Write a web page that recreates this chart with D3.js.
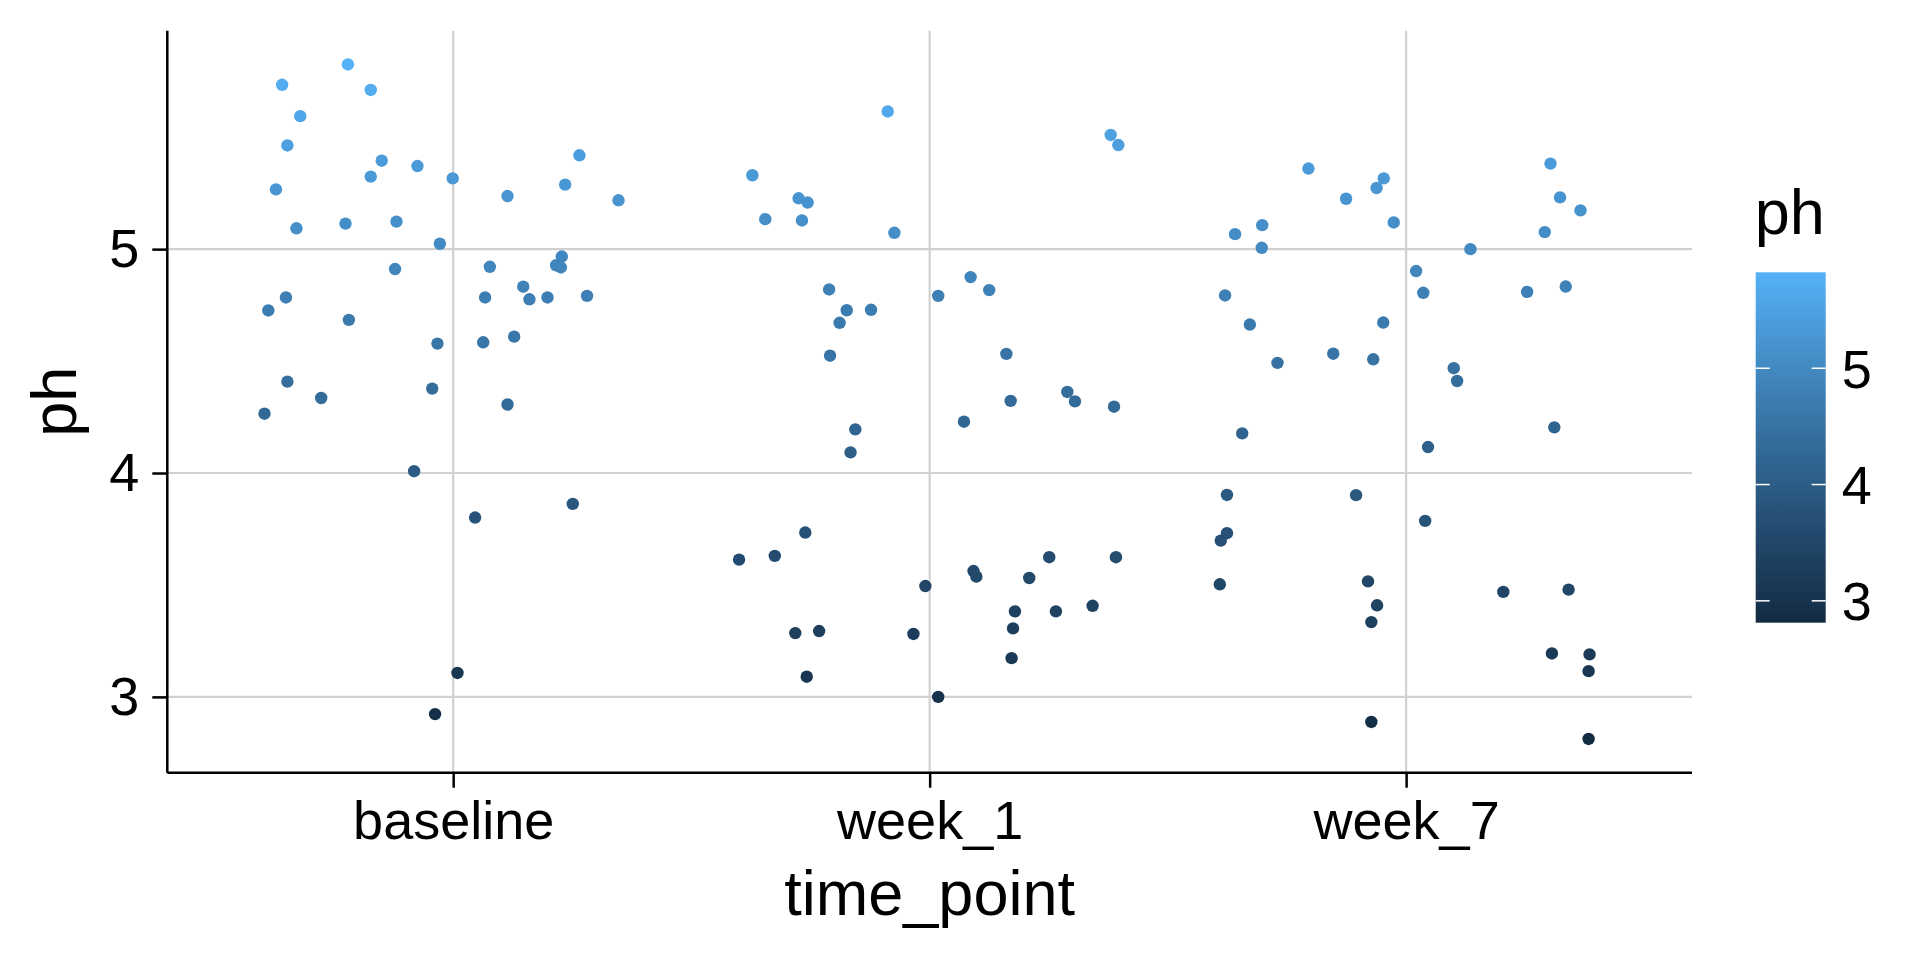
<!DOCTYPE html>
<html>
<head>
<meta charset="utf-8">
<script src="https://cdn.jsdelivr.net/npm/d3@7"></script>
<style>
  html, body { margin: 0; padding: 0; background: #ffffff; }
  svg { display: block; font-family: "Liberation Sans", Arial, Helvetica, sans-serif; }
</style>
</head>
<body>
<svg id="chart" width="1920" height="960"></svg>
<script>
// ---- data ----
const categories = ["baseline", "week_1", "week_7"];

const baselinePh = [5.825, 5.734, 5.711, 5.594, 5.463, 5.419, 5.395, 5.371, 5.316, 5.324,
  5.267, 5.288, 5.237, 5.218, 5.093, 5.114, 5.123, 5.024, 4.967, 4.928,
  4.918, 4.921, 4.911, 4.832, 4.784, 4.776, 4.784, 4.791, 4.784, 4.726,
  4.684, 4.578, 4.584, 4.609, 4.408, 4.335, 4.265, 4.377, 4.306, 4.008,
  3.801, 3.862, 3.107, 2.923];
const baselineJitter = [-0.221, -0.359, -0.173, -0.321, -0.348, 0.265, -0.150, -0.075, -0.001, -0.173,
  -0.372, 0.235, 0.114, 0.347, -0.329, -0.226, -0.119, -0.028, 0.228, 0.216,
  0.226, 0.077, -0.122, 0.147, 0.067, 0.160, 0.198, 0.281, -0.351, -0.388,
  -0.219, -0.033, 0.063, 0.128, -0.348, -0.277, -0.396, -0.044, 0.114, -0.082,
  0.046, 0.251, 0.009, -0.038];

const week1Ph = [5.615, 5.510, 5.465, 5.330, 5.227, 5.208, 5.134, 5.128, 5.073, 4.820,
  4.875, 4.817, 4.791, 4.727, 4.729, 4.671, 4.524, 4.532, 4.362, 4.320,
  4.322, 4.296, 4.229, 4.195, 4.092, 3.734, 3.613, 3.630, 3.495, 3.562,
  3.537, 3.624, 3.624, 3.531, 3.382, 3.382, 3.407, 3.306, 3.173, 3.285,
  3.294, 3.281, 3.090, 3.000];
const week1Jitter = [-0.088, 0.380, 0.396, -0.372, -0.275, -0.256, -0.345, -0.268, -0.074, -0.211,
  0.086, 0.125, 0.018, -0.174, -0.123, -0.189, -0.209, 0.161, 0.289, 0.305,
  0.170, 0.387, 0.072, -0.156, -0.166, -0.261, -0.400, -0.325, -0.009, 0.092,
  0.098, 0.251, 0.391, 0.209, 0.179, 0.265, 0.342, 0.175, 0.172, -0.282,
  -0.232, -0.034, -0.258, 0.018];

const week7Ph = [5.382, 5.360, 5.316, 5.273, 5.225, 5.231, 5.173, 5.119, 5.107, 5.067,
  5.076, 5.006, 5.000, 4.902, 4.805, 4.809, 4.833, 4.793, 4.663, 4.672,
  4.533, 4.508, 4.492, 4.468, 4.411, 4.177, 4.204, 4.116, 3.902, 3.901,
  3.786, 3.731, 3.698, 3.503, 3.516, 3.409, 3.334, 3.469, 3.479, 3.194,
  3.190, 3.115, 2.888, 2.812];
const week7Jitter = [0.303, -0.205, -0.047, -0.062, -0.126, 0.323, 0.366, -0.026, -0.302, -0.359,
  0.291, -0.303, 0.135, 0.021, 0.036, 0.254, 0.335, -0.380, -0.328, -0.048,
  -0.153, -0.069, -0.270, 0.100, 0.107, -0.344, 0.311, 0.046, -0.376, -0.105,
  0.040, -0.376, -0.389, -0.391, -0.080, -0.061, -0.073, 0.204, 0.341, 0.306,
  0.385, 0.383, -0.073, 0.383];

const yTicks = [3, 4, 5];
const legendTicks = [3, 4, 5];
const xTitle = "time_point";
const yTitle = "ph";
const legendTitle = "ph";

// ---- build rows ----
const groups = [
  { cat: "baseline", ph: baselinePh, jit: baselineJitter },
  { cat: "week_1", ph: week1Ph, jit: week1Jitter },
  { cat: "week_7", ph: week7Ph, jit: week7Jitter }
];
const rows = [];
groups.forEach(g => g.ph.forEach((v, i) => rows.push({ cat: g.cat, ph: v, jit: g.jit[i] })));

// ---- layout ----
const svg = d3.select("#chart");
const P = { left: 167.3, right: 1692, top: 30.7, bottom: 772.7 };
const tickFont = 54, titleFont = 63;
const axisColor = "#000000", gridColor = "#d1d1d1";

const ext = d3.extent(rows, d => d.ph);
const pad = (ext[1] - ext[0]) * 0.05;

const x = d3.scalePoint().domain(categories).range([P.left, P.right]).padding(0.6);
const y = d3.scaleLinear().domain([ext[0] - pad, ext[1] + pad]).range([P.bottom, P.top]);
const color = d3.scaleLinear().domain(ext).range(["#132B43", "#56B1F7"]).interpolate(d3.interpolateLab);

// grid
const grid = svg.append("g");
grid.selectAll("line.h").data(yTicks).join("line")
  .attr("x1", P.left).attr("x2", P.right)
  .attr("y1", d => y(d)).attr("y2", d => y(d))
  .attr("stroke", gridColor).attr("stroke-width", 2.2);
grid.selectAll("line.v").data(categories).join("line")
  .attr("x1", d => x(d)).attr("x2", d => x(d))
  .attr("y1", P.top).attr("y2", P.bottom)
  .attr("stroke", gridColor).attr("stroke-width", 2.2);

// points
svg.append("g").selectAll("circle").data(rows).join("circle")
  .attr("cx", d => x(d.cat) + d.jit * x.step())
  .attr("cy", d => y(d.ph))
  .attr("r", 6.2)
  .attr("fill", d => color(d.ph));

// axes
const yAxis = svg.append("g").attr("transform", `translate(${P.left},0)`)
  .call(d3.axisLeft(y).tickValues(yTicks).tickSize(15).tickPadding(13).tickFormat(d3.format("d")));
const xAxis = svg.append("g").attr("transform", `translate(0,${P.bottom})`)
  .call(d3.axisBottom(x).tickSize(15).tickPadding(13));
[yAxis, xAxis].forEach(a => {
  a.select(".domain").attr("stroke", axisColor).attr("stroke-width", 2.5);
  a.selectAll(".tick line").attr("stroke", axisColor).attr("stroke-width", 2.5);
  a.selectAll(".tick text").attr("fill", "#000").style("font-size", tickFont + "px")
    .style("font-family", "'Liberation Sans', Arial, sans-serif");
});
yAxis.select(".domain").attr("d", `M0,${P.bottom}V${P.top}`);
xAxis.select(".domain").attr("d", `M${P.left},0H${P.right}`);

// axis titles
svg.append("text")
  .attr("x", (P.left + P.right) / 2).attr("y", 915)
  .attr("text-anchor", "middle").style("font-size", titleFont + "px").attr("fill", "#000")
  .text(xTitle);
svg.append("text")
  .attr("transform", `translate(76,${(P.top + P.bottom) / 2}) rotate(-90)`)
  .attr("text-anchor", "middle").style("font-size", titleFont + "px").attr("fill", "#000")
  .text(yTitle);

// legend
const L = { x: 1755.7, w: 70, top: 272.3, bottom: 622.7 };
const ly = d3.scaleLinear().domain(ext).range([L.bottom, L.top]);
const defs = svg.append("defs");
const grad = defs.append("linearGradient").attr("id", "phgrad")
  .attr("x1", 0).attr("y1", 1).attr("x2", 0).attr("y2", 0);
d3.range(0, 1.0001, 0.05).forEach(t => {
  grad.append("stop").attr("offset", t)
    .attr("stop-color", color(ext[0] + t * (ext[1] - ext[0])));
});
svg.append("rect").attr("x", L.x).attr("y", L.top).attr("width", L.w)
  .attr("height", L.bottom - L.top).attr("fill", "url(#phgrad)");
const lg = svg.append("g");
legendTicks.forEach(v => {
  lg.append("line").attr("x1", L.x).attr("x2", L.x + L.w / 5)
    .attr("y1", ly(v)).attr("y2", ly(v)).attr("stroke", "#fff").attr("stroke-width", 1.5);
  lg.append("line").attr("x1", L.x + L.w - L.w / 5).attr("x2", L.x + L.w)
    .attr("y1", ly(v)).attr("y2", ly(v)).attr("stroke", "#fff").attr("stroke-width", 1.5);
  lg.append("text").attr("x", L.x + L.w + 16).attr("y", ly(v)).attr("dy", "0.36em")
    .style("font-size", tickFont + "px").attr("fill", "#000").text(v);
});
svg.append("text").attr("x", L.x - 1).attr("y", 234)
  .style("font-size", titleFont + "px").attr("fill", "#000").text(legendTitle);
</script>
</body>
</html>
